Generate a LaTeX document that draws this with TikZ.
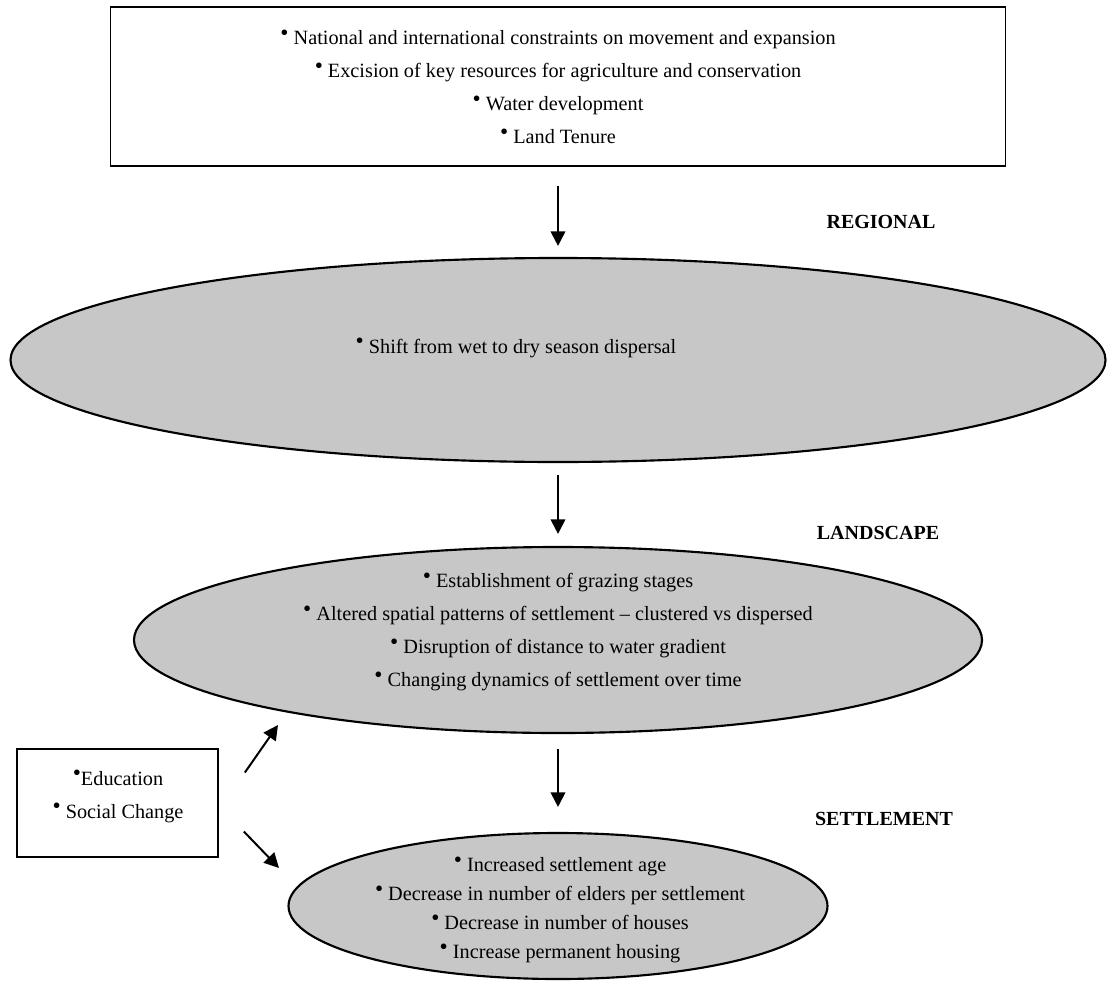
\documentclass[tikz,border=0pt]{standalone}
\usepackage{fontspec}
\setmainfont{Liberation Serif}
\usepackage{graphicx}
\usetikzlibrary{shapes.geometric}
\usetikzlibrary{arrows.meta}
\definecolor{shade}{gray}{0.78}
\newcommand{\bul}{\raisebox{0.45ex}{\scalebox{1.15}{\textbullet}}}

\begin{document}
\begin{tikzpicture}[x=0.75pt,y=-0.75pt]
    \def\px{0.75pt}
    \tikzset{oval/.style={ellipse,draw,line width=1.6pt,fill=shade,inner sep=0pt},
        frame/.style={rectangle,draw,line width=1.3pt,inner sep=0pt},
        words/.style={align=center,font=\fontsize{15.2}{24.75}\selectfont,inner sep=0pt},
        level/.style={font=\fontsize{15}{18}\selectfont\bfseries},
        link/.style={-{Triangle[length=11pt,width=11pt]},line width=1.5pt}}
    \useasboundingbox (0,0) rectangle (1109,981);
    \node[frame,words,minimum width=895*\px,minimum height=159*\px] (drivers) at (558,86.5)
        {\bul\ National and international constraints on movement and expansion\\
         \bul\ Excision of key resources for agriculture and conservation\\
         \bul\ Water development\\
         \bul\ Land Tenure};
    \node[oval,minimum width=1095*\px,minimum height=204*\px] (regional) at (558,360) {};
    \node[words] (regtext) at (516,348) {\bul\ Shift from wet to dry season dispersal};
    \node[oval,minimum width=848*\px,minimum height=186*\px] (landscape) at (558,640) {};
    \node[words] (landtext) at (558,632)
        {\bul\ Establishment of grazing stages\\
         \bul\ Altered spatial patterns of settlement -- clustered vs dispersed\\
         \bul\ Disruption of distance to water gradient\\
         \bul\ Changing dynamics of settlement over time};
    \node[oval,minimum width=539*\px,minimum height=146*\px] (settlement) at (558,906) {};
    \node[words,font=\fontsize{15.2}{21.75}\selectfont] (settext) at (560,910)
        {\bul\ Increased settlement age\\
         \bul\ Decrease in number of elders per settlement\\
         \bul\ Decrease in number of houses\\
         \bul\ Increase permanent housing};
    \node[frame,minimum width=201*\px,minimum height=108*\px] (side) at (117.5,803) {};
    \node[words] (sidetext) at (118,796.5) {\bul Education\\ \bul\ Social Change};
    \node[level] (reglabel) at (881,222) {REGIONAL};
    \node[level] (landlabel) at (878,533) {LANDSCAPE};
    \node[level] (setlabel) at (884,819) {SETTLEMENT};
    \foreach \a/\b/\s/\e in {drivers/regional/14.25pt/8.25pt,
                             regional/landscape/9pt/9pt,
                             landscape/settlement/11.25pt/18.75pt}
        \draw[link,shorten <=\s,shorten >=\e] (\a.south) -- (\b.north);
    \coordinate (up) at (278,725);
    \coordinate (down) at (279,868);
    \draw[link] ([shift={(26,-30.5)}]side.east) -- (up);
    \draw[link] ([shift={(25,28.5)}]side.east) -- (down);
\end{tikzpicture}
\end{document}
